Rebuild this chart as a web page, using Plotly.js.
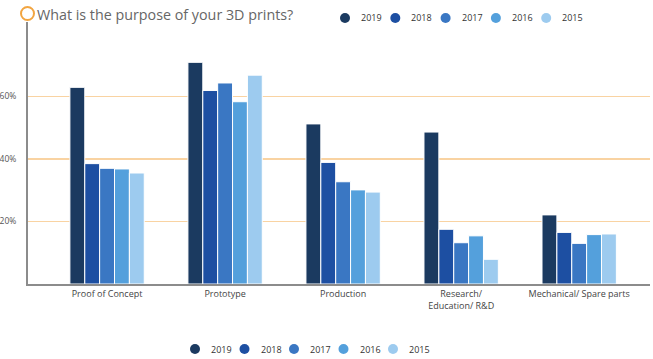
<!DOCTYPE html>
<html>
<head>
<meta charset="utf-8">
<script src="https://cdn.plot.ly/plotly-3.0.1.min.js"></script>
<style>html,body{margin:0;padding:0;background:#fff;}#chart{width:653px;height:359px;}</style>
</head>
<body>
<div id="chart"></div>
<script>
var categories = ["Proof of Concept", "Prototype", "Production", "Research/<br>Education/ R&D", "Mechanical/ Spare parts"];
var years = ["2019", "2018", "2017", "2016", "2015"];
var v2019 = [62.9, 70.9, 51.2, 48.6, 22.1];
var v2018 = [38.5, 61.9, 38.9, 17.5, 16.5];
var v2017 = [37.0, 64.3, 32.7, 13.2, 13.0];
var v2016 = [36.8, 58.3, 30.1, 15.4, 15.8];
var v2015 = [35.5, 66.8, 29.4, 7.9, 16.0];
var yTicks = [20, 40, 60];
var yTickText = ["20%", "40%", "60%"];
var titleText = "What is the purpose of your 3D prints?";

var series = [v2019, v2018, v2017, v2016, v2015];
var colors = ["#1b3a60", "#1d4fa2", "#3a77c3", "#54a0dc", "#9dcbef"];

var W = 653, H = 359;
var M = {l: 28, r: 3, t: 22, b: 75};
var PW = W - M.l - M.r, PH = H - M.t - M.b;
function px2x(p) { return (p - M.l) / PW; }
function py2y(p) { return (H - M.b - p) / PH; }

var traces = years.map(function (yr, i) {
  return {
    type: "bar",
    name: yr,
    x: categories,
    y: series[i],
    marker: {color: colors[i], line: {color: "#ffffff", width: 1}},
    showlegend: false,
    hoverinfo: "x+y+name"
  };
});

var shapes = [];
var annotations = [];

// title icon
shapes.push({
  type: "circle", xref: "paper", yref: "paper",
  xsizemode: "pixel", ysizemode: "pixel",
  xanchor: 0, yanchor: 1,
  x0: -7, x1: 6, y0: 2, y1: 15,
  line: {color: "#f2a541", width: 2}, fillcolor: "#ffffff", layer: "above"
});

// legends (top and bottom)
function addLegend(cx0, step, cy) {
  years.forEach(function (yr, i) {
    var cx = cx0 + step * i;
    shapes.push({
      type: "circle", xref: "paper", yref: "paper",
      xsizemode: "pixel", ysizemode: "pixel",
      xanchor: px2x(cx), yanchor: py2y(cy),
      x0: -5, x1: 5, y0: -5, y1: 5,
      line: {width: 0}, fillcolor: colors[i], layer: "above"
    });
    annotations.push({
      xref: "paper", yref: "paper",
      x: px2x(cx + 14), y: py2y(cy),
      xanchor: "left", yanchor: "middle",
      text: yr, showarrow: false,
      font: {family: "Open Sans, sans-serif", size: 9, color: "#333333"}
    });
  });
}
addLegend(345, 50.3, 18);
addLegend(195, 49.5, 349);

var layout = {
  width: W, height: H,
  margin: M,
  paper_bgcolor: "#ffffff",
  plot_bgcolor: "#ffffff",
  font: {family: "Open Sans, sans-serif", color: "#444444"},
  title: {
    text: titleText,
    x: 37 / W, xref: "container", xanchor: "left",
    y: 1 - 15 / H, yref: "container", yanchor: "middle",
    font: {family: "Open Sans, sans-serif", size: 14.3, color: "#666666"}
  },
  barmode: "group",
  bargap: 0.37,
  bargroupgap: 0,
  xaxis: {
    range: [-0.67, 4.6],
    showgrid: false,
    showline: true, linecolor: "#8c8c8c", linewidth: 2,
    ticks: "",
    tickfont: {family: "Open Sans, sans-serif", size: 9, color: "#444444"},
    fixedrange: true
  },
  yaxis: {
    range: [0, 83.8],
    tickvals: yTicks, ticktext: yTickText,
    showgrid: true, gridcolor: "#f9d3a2", gridwidth: 1.5,
    zeroline: false,
    showline: true, linecolor: "#8c8c8c", linewidth: 2,
    ticks: "", ticklabelstandoff: 8,
    tickfont: {family: "Open Sans, sans-serif", size: 8.5, color: "#555555"},
    fixedrange: true
  },
  shapes: shapes,
  annotations: annotations,
  showlegend: false
};

Plotly.newPlot("chart", traces, layout, {displayModeBar: false, staticPlot: true});
</script>
</body>
</html>
